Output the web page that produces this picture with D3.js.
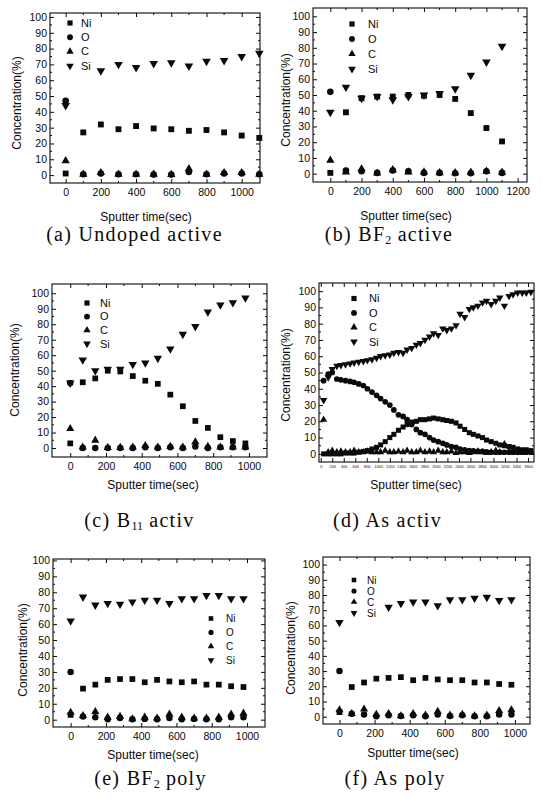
<!DOCTYPE html>
<html><head><meta charset="utf-8">
<script src="https://cdn.jsdelivr.net/npm/d3@7"></script>
<style>body{margin:0;background:#fff}svg text{white-space:pre}</style>
</head><body><svg id="c" width="542" height="800"></svg>
<script>
// ---------- data ----------
const seriesNames = ["Ni", "O", "C", "Si"];
const yTickValues = [0, 10, 20, 30, 40, 50, 60, 70, 80, 90, 100];

// (a) Undoped active
const timeA = [0, 100, 200, 300, 400, 500, 600, 700, 800, 900, 1000, 1100];
const niA = [1, 27, 32, 29, 31, 29.5, 29, 28, 28.5, 27, 25, 23.5];
const oA  = [47, 0.5, 1, 0.5, 0.5, 0.3, 0.3, 2, 0.5, 1, 1, 0.5];
const cA  = [9, 0.5, 1.5, 0.5, 0.5, 0.5, 0.3, 4, 0.5, 1.5, 1.5, 0.5];
const siA = [44, null, 66, 70, 68, 70.5, 71, 69, 72, 72.5, 75, 77];
const xTicksA = [0, 200, 400, 600, 800, 1000];

// (b) BF2 active
const timeB = [0, 100, 200, 300, 400, 500, 600, 700, 800, 900, 1000, 1100];
const niB = [0.5, 39, 48, 49, 49, 50, 49.5, 50, 47.5, 38.5, 29, 20.5];
const oB  = [52, 2, 1.5, 0.5, 2, 1.5, 0.5, 0.5, 0.3, 0.3, 1.5, 0.5];
const cB  = [8.5, 1, 3, 0.3, 2.5, 1, 1, 0.5, 0.5, 0.8, 1.5, 0.8];
const siB = [39, 55, 48, 49, 47, 49, 50, 51, 54, 62.5, 71, 81];
const xTicksB = [0, 200, 400, 600, 800, 1000, 1200];

// (c) B11 activ
const timeC = [0, 70, 140, 210, 280, 350, 420, 490, 560, 630, 700, 770, 840, 910, 980];
const niC = [3, 42.5, 45, 50, 49.5, 46.5, 43.5, 41.5, 34.5, 27, 17.5, 13, 7, 4.5, 3];
const oC  = [42, 0, 0, 0, 0, 0, 0.5, 0, 0.5, 0, 1, 0, 0.5, 0.5, 0.5];
const cC  = [12.5, 0.5, 5, 0.3, 0.3, 0.5, 1.5, 0.5, 1, 0.5, 4, 1, 0.5, 0.5, 0.5];
const siC = [42, 57, 50, 51, 51, 54, 55, 58, 64, 73.5, 78.5, 88, 92.5, 94, 97];
const xTicksC = [0, 200, 400, 600, 800, 1000];

// (d) As activ
const timeD = [50, 130, 200, 280, 350, 430, 510, 580, 660, 740, 810, 890, 970, 1040, 1120, 1200,
  1270, 1350, 1430, 1500, 1580, 1660, 1730, 1810, 1890, 1960, 2040, 2120, 2190, 2270, 2350, 2420,
  2500, 2580, 2650, 2730, 2810, 2880, 2960, 3040, 3110, 3190, 3270, 3340, 3420, 3500, 3570, 3650];
const niD = [0, 0, 0, 0, 0, 0.5, 0.5, 0.5, 1, 1.5, 2, 3, 4, 5.5, 7.5, 10, 12, 14.5, 16.5, 18,
  19.5, 20, 21, 21, 21.5, 22, 21.5, 21, 20.5, 20, 19, 17, 15, 13, 12, 11, 10, 8.5, 7.5, 6.5,
  5.5, 5, 4.5, 4, 3, 2.5, 2.5, 2];
const oD = [45, 49, 50, 46, 45.5, 45, 44.5, 44, 43, 42, 40, 38, 36, 34, 32, 30, 27, 24, 23, 21,
  18, 15, 13, 12, 10, 8.5, 7.5, 6.5, 5.5, 4.5, 4, 3, 2.5, 2, 1.8, 1.5, 1.5, 1.2, 1, 1,
  1, 1, 1, 1, 1, 1, 1, 1];
const cD = [21, 1, 2, 1, 1.5, 1, 1, 2, 1, 1, 1.5, 1, 1, 1, 2, 1, 1, 1.5, 1, 2,
  1, 1, 2, 1, 1.5, 1, 2, 1, 1, 1.5, 0.5, 1, 1, 0.5, 1, 1.5, 1, 0.5, 1, 2,
  1, 6, 1.5, 1, 1, 1, 1, 1];
const siD = [33, 47, 52, 54, 54.5, 55, 55.5, 56, 56.5, 57, 57.5, 58, 59, 60, 60.5, 61, 62, 62.5, 62, 64,
  65, 67, 68, 70, 72, 74, 73, 77, 76, 77, 79, 86, 84, 89, 90, 91, 93, 94, 92, 94,
  96, 91, 97, 98, 99, 99, 99, 99.5];
const xTicksD = [0, 200, 400, 600, 800, 1000, 1200, 1400, 1600, 1800, 2000, 2200, 2400, 2600, 2800,
  3000, 3200, 3400, 3600];

// (e) BF2 poly
const timeE = [0, 70, 140, 210, 280, 350, 420, 490, 560, 630, 700, 770, 840, 910, 980];
const niE = [3, 19.5, 22, 25, 25.5, 25.5, 23.5, 25, 24, 23.5, 24, 22, 22, 21, 20.5];
const oE  = [30, 2, 1.5, 0.3, 1, 0.3, 0.5, 0.3, 1, 0.3, 0.5, 0.3, 0.3, 1.5, 1.5];
const cE  = [4.5, 2.5, 5, 1.5, 2, 0.5, 1.5, 1, 3.5, 1.5, 1, 1, 1.5, 3.5, 4];
const siE = [62, 77, 72, 73, 72.5, 74, 75, 75, 73, 76, 76, 78, 78, 76, 76];
const xTicksE = [0, 200, 400, 600, 800, 1000];

// (f) As poly
const timeF = [0, 70, 140, 210, 280, 350, 420, 490, 560, 630, 700, 770, 840, 910, 980];
const niF = [3, 19.5, 22.5, 25, 25.5, 26, 24, 25.5, 24.5, 24, 24, 22.5, 22.5, 21.5, 21];
const oF  = [30, 2, 1.5, 0.3, 1, 0.5, 1, 0.3, 1.5, 0.5, 1, 0.3, 0.3, 1.5, 1.5];
const cF  = [4.5, 2, 5, 1.5, 2, 0.5, 2, 1, 3.5, 1, 1.5, 0.5, 1, 4, 4.5];
const siF = [62, null, null, null, 72, 74.5, 75.5, 75.5, 73, 77, 77, 78, 78.5, 76.5, 77];
const xTicksF = [0, 200, 400, 600, 800, 1000];

// ---------- layout ----------
const panels = [
  { time: timeA, vals: [niA, oA, cA, siA], xTicks: xTicksA, minorX: 100,
    box: {l: 50, r: 260, t: 13, b: 183}, xDom: [-89, 1104], yDom: [-5, 102.5], mk: 1.15,
    legend: {x: 70, tx: 81, y: 23, dy: 14.3},
    ylab: {x: 17, y: 103}, xlab: {x: 146, y: 221},
    cap: {x: 134.5, y: 241, parts: [["(a) Undoped active", false]]} },
  { time: timeB, vals: [niB, oB, cB, siB], xTicks: xTicksB, minorX: 100,
    box: {l: 313, r: 527, t: 8, b: 182}, xDom: [-111, 1260], yDom: [-5.3, 105.3], mk: 1.15,
    legend: {x: 352, tx: 368, y: 24, dy: 15},
    ylab: {x: 286, y: 100}, xlab: {x: 406, y: 220},
    cap: {x: 389, y: 241, parts: [["(b) BF", false], ["2", true], [" active", false]]} },
  { time: timeC, vals: [niC, oC, cC, siC], xTicks: xTicksC, minorX: 100,
    box: {l: 52, r: 267, t: 284, b: 457}, xDom: [-102, 1101], yDom: [-5.8, 106], mk: 1.1,
    legend: {x: 87, tx: 100, y: 303, dy: 13.6},
    ylab: {x: 15, y: 370}, xlab: {x: 153, y: 489},
    cap: {x: 139.5, y: 527, parts: [["(c) B", false], ["11", true], [" activ", false]]} },
  { time: timeD, vals: [niD, oD, cD, siD], xTicks: xTicksD, minorX: null,
    box: {l: 319, r: 534, t: 283, b: 462}, xDom: [-30, 3704], yDom: [-5, 105], mk: 0.85,
    legend: {x: 354, tx: 369, y: 298.5, dy: 14.4}, tinyX: true,
    ylab: {x: 286, y: 375}, xlab: {x: 416, y: 489},
    cap: {x: 387.5, y: 527, parts: [["(d) As activ", false]]} },
  { time: timeE, vals: [niE, oE, cE, siE], xTicks: xTicksE, minorX: 100,
    box: {l: 53, r: 265, t: 559, b: 727}, xDom: [-100, 1102], yDom: [-4.6, 100.9], mk: 1.1,
    legend: {x: 211, tx: 226, y: 618.5, dy: 13.9, small: true},
    ylab: {x: 23, y: 650}, xlab: {x: 153, y: 759},
    cap: {x: 150.5, y: 785, parts: [["(e) BF", false], ["2", true], [" poly", false]]} },
  { time: timeF, vals: [niF, oF, cF, siF], xTicks: xTicksF, minorX: 100,
    box: {l: 323, r: 530, t: 557, b: 724}, xDom: [-94, 1086], yDom: [-4.8, 105], mk: 1.1,
    legend: {x: 354, tx: 367, y: 580, dy: 11, small: true},
    ylab: {x: 291, y: 648}, xlab: {x: 413, y: 757},
    cap: {x: 395, y: 785, parts: [["(f) As poly", false]]} }
];

// ---------- drawing ----------
const svg = d3.select("#c");
const INK = "#0a0a0a";
const symbolFor = {Ni: d3.symbolSquare, O: d3.symbolCircle, C: d3.symbolTriangle, Si: d3.symbolTriangle};
const baseSize = {Ni: 30, O: 30, C: 26, Si: 28};
const fmt = d3.format("d");

function drawMarker(g, name, x, y, k) {
  g.append("path")
    .attr("d", d3.symbol(symbolFor[name], baseSize[name] * k)())
    .attr("transform", `translate(${x},${y})` + (name === "Si" ? " rotate(180)" : ""))
    .attr("fill", INK);
}

panels.forEach(p => {
  const g = svg.append("g");
  const x = d3.scaleLinear().domain(p.xDom).range([p.box.l, p.box.r]);
  const y = d3.scaleLinear().domain(p.yDom).range([p.box.b, p.box.t]);

  const font = "'Liberation Sans', Arial, sans-serif";
  const left = g.append("g").attr("transform", `translate(${p.box.l},0)`)
    .call(d3.axisLeft(y).tickValues(yTickValues).tickFormat(fmt).tickSize(-4).tickSizeOuter(0).tickPadding(3));
  const bottom = g.append("g").attr("transform", `translate(0,${p.box.b})`)
    .call(d3.axisBottom(x).tickValues(p.xTicks).tickFormat(fmt).tickSize(-4).tickSizeOuter(0).tickPadding(p.tinyX ? 3 : 6));
  g.append("g").attr("transform", `translate(${p.box.r},0)`)
    .call(d3.axisRight(y).tickValues(yTickValues).tickSize(-4).tickSizeOuter(0).tickFormat(""));
  g.append("g").attr("transform", `translate(0,${p.box.t})`)
    .call(d3.axisTop(x).tickValues(p.xTicks).tickSize(-4).tickSizeOuter(0).tickFormat(""));
  const minorY = yTickValues.slice(0, -1).map(v => v + 5);
  minorY.forEach(v => {
    g.append("line").attr("x1", p.box.l).attr("x2", p.box.l + 2).attr("y1", y(v)).attr("y2", y(v)).attr("stroke", INK);
    g.append("line").attr("x1", p.box.r).attr("x2", p.box.r - 2).attr("y1", y(v)).attr("y2", y(v)).attr("stroke", INK);
  });
  if (p.minorX) {
    p.xTicks.slice(0, -1).forEach(v => {
      const m = v + p.minorX;
      g.append("line").attr("x1", x(m)).attr("x2", x(m)).attr("y1", p.box.b).attr("y2", p.box.b - 2).attr("stroke", INK);
      g.append("line").attr("x1", x(m)).attr("x2", x(m)).attr("y1", p.box.t).attr("y2", p.box.t + 2).attr("stroke", INK);
    });
  }
  g.selectAll(".domain").remove();
  g.selectAll(".tick line").attr("stroke", INK);
  g.append("rect").attr("x", p.box.l).attr("y", p.box.t)
    .attr("width", p.box.r - p.box.l).attr("height", p.box.b - p.box.t)
    .attr("fill", "none").attr("stroke", INK).attr("stroke-width", 1.1);

  left.selectAll("text").attr("font-family", font).attr("font-size", 10.5).attr("fill", INK);
  bottom.selectAll("text").attr("font-family", font).attr("font-size", p.tinyX ? 3.8 : 10.5).attr("fill", INK);

  // markers
  p.vals.forEach((vals, si) => {
    p.time.forEach((t, i) => {
      if (vals[i] != null) drawMarker(g, seriesNames[si], x(t), y(vals[i]), p.mk);
    });
  });

  // legend
  seriesNames.forEach((name, i) => {
    const ly = p.legend.y + i * p.legend.dy;
    drawMarker(g, name, p.legend.x, ly, p.legend.small ? 0.7 : 0.9);
    g.append("text").attr("x", p.legend.tx).attr("y", ly + 3.8).text(name)
      .attr("font-family", font).attr("font-size", p.legend.small ? 10 : 11).attr("fill", INK);
  });

  // axis titles
  g.append("text").attr("transform", `translate(${p.ylab.x},${p.ylab.y}) rotate(-90)`)
    .attr("text-anchor", "middle").attr("dy", "0.35em").text("Concentration(%)")
    .attr("font-family", font).attr("font-size", 12).attr("fill", INK);
  g.append("text").attr("x", p.xlab.x).attr("y", p.xlab.y).attr("text-anchor", "middle")
    .text("Sputter time(sec)").attr("font-family", font).attr("font-size", 12).attr("fill", INK);

  // caption
  const cap = g.append("text").attr("x", p.cap.x).attr("y", p.cap.y).attr("text-anchor", "middle")
    .attr("font-family", "'Liberation Serif', 'Times New Roman', serif").attr("font-size", 20)
    .attr("letter-spacing", 1.3).attr("fill", INK);
  p.cap.parts.forEach(([txt, sub]) => {
    const ts = cap.append("tspan").text(txt);
    if (sub) ts.attr("font-size", 12).attr("dy", 3).attr("letter-spacing", 0);
    else if (cap.selectAll("tspan").size() > 1) ts.attr("dy", -3);
  });
});
</script>
</body></html>
